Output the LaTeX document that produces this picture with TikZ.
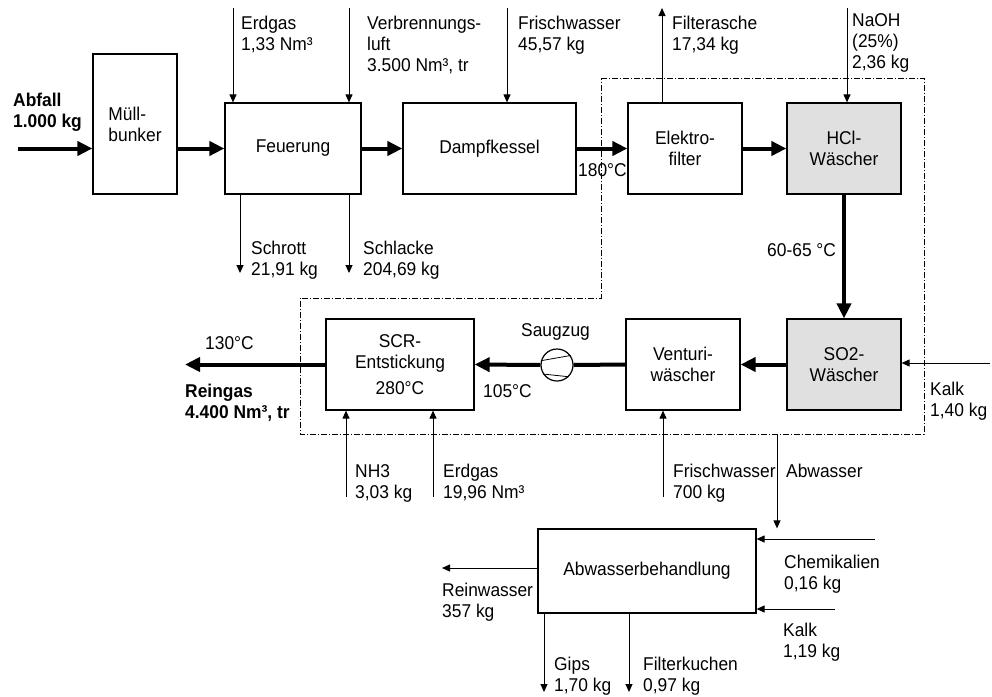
\documentclass[tikz,border=0pt]{standalone}
\usepackage{fontspec}
\setmainfont[FakeStretch=0.94]{Liberation Sans}
\usetikzlibrary{arrows.meta}

\begin{document}
\begin{tikzpicture}[x=1pt,y=-1pt,font=\fontsize{18.5}{21}\selectfont,
	box/.style={draw,line width=1.2pt,inner sep=0pt},
	wash/.style={box,fill=black!12},
	lbl/.style={anchor=north west,align=left,inner sep=0pt},
	flow/.style={line width=4pt,-{Triangle[length=15pt,width=14pt]}},
	feed/.style={line width=1pt,-{Triangle[length=8pt,width=7pt]}},
	border/.style={line width=1pt,dash pattern=on 6pt off 2pt on 1pt off 2pt}]
		\useasboundingbox (0,0) rectangle (992,696);
		% process units
		\path (135,124) node(muell)[box,minimum width=84pt,minimum height=140pt,align=left]{Müll-\\bunker}
		(293,148.5) node(feuer)[box,minimum width=136pt,minimum height=91pt]{Feuerung}
		(489.5,148.5) node(dampf)[box,minimum width=173pt,minimum height=91pt]{Dampfkessel}
		(685,148.5) node(elektro)[box,minimum width=114pt,minimum height=91pt,align=center]{Elektro-\\filter}
		(844,148.5) node(hcl)[wash,minimum width=114pt,minimum height=91pt,align=center]{HCl-\\Wäscher}
		(844,364.5) node(so2)[wash,minimum width=114pt,minimum height=91pt,align=center]{SO2-\\Wäscher}
		(683,364.5) node(venturi)[box,minimum width=114pt,minimum height=91pt,align=center]{Venturi-\\wäscher}
		(400,364.5) node(scr)[box,minimum width=148pt,minimum height=91pt,align=center]{SCR-\\Entstickung\\[5pt]280°C}
		(557,365) node(fan)[circle,draw,line width=1.2pt,minimum size=32pt,inner sep=0pt]{}
		(647,571) node(abw)[box,minimum width=218pt,minimum height=84pt]{Abwasserbehandlung};
		\draw[line width=0.8pt] (fan.165) -- (fan.35);
		\draw[line width=0.8pt] (fan.213) -- (fan.-45);
		% boundary of flue gas cleaning
		\draw[border] (601,78) -- (924,78) -- (924,434) -- (300,434) -- (300,298) -- (601,298) -- cycle;
		% free ends
		\coordinate (abfall) at (18,148.5);
		\coordinate (reingas) at (185,364.5);
		\coordinate (erdgasin) at (233,8);
		\coordinate (luft) at (349,8);
		\coordinate (frisch) at (507,8);
		\coordinate (asche) at (662,8);
		\coordinate (naoh) at (847,8);
		\coordinate (schrott) at (240,273);
		\coordinate (schlacke) at (349,273);
		\coordinate (kalkin) at (990,363);
		\coordinate (nh) at (346,497);
		\coordinate (erdgasscr) at (433,497);
		\coordinate (frischv) at (663,497);
		\coordinate (abwin) at (777,434);
		\coordinate (reinw) at (442,568);
		\coordinate (chem) at (875,539);
		\coordinate (kalkabw) at (835,609);
		\coordinate (gips) at (544,692);
		\coordinate (kuchen) at (629,692);
		% main gas flow
		\draw[flow] (abfall) -- (muell.west |- abfall);
		\draw[flow] (muell.east |- feuer) -- (feuer.west);
		\draw[flow] (feuer.east) -- (dampf.west);
		\draw[flow] (dampf.east) -- (elektro.west);
		\draw[flow] (elektro.east) -- (hcl.west);
		\draw[flow] (hcl.south) -- (so2.north);
		\draw[flow] (so2.west) -- (venturi.east);
		\draw[line width=4pt] (venturi.west) -- (fan.east);
		\draw[flow] (fan.west) -- (scr.east);
		\draw[flow] (scr.west) -- (reingas);
		% feeds and residues
		\draw[feed] (erdgasin) -- (erdgasin |- feuer.north);
		\draw[feed] (luft) -- (luft |- feuer.north);
		\draw[feed] (frisch) -- (frisch |- dampf.north);
		\draw[feed] (asche |- elektro.north) -- (asche);
		\draw[feed] (naoh) -- (naoh |- hcl.north);
		\draw[feed] (schrott |- feuer.south) -- (schrott);
		\draw[feed] (schlacke |- feuer.south) -- (schlacke);
		\draw[feed] (kalkin) -- (so2.east |- kalkin);
		\draw[feed] (nh) -- (nh |- scr.south);
		\draw[feed] (erdgasscr) -- (erdgasscr |- scr.south);
		\draw[feed] (frischv) -- (frischv |- venturi.south);
		\draw[feed] (abwin) -- (abwin |- abw.north);
		\draw[feed] (reinw -| abw.west) -- (reinw);
		\draw[feed] (chem) -- (abw.east |- chem);
		\draw[feed] (kalkabw) -- (abw.east |- kalkabw);
		\draw[feed] (gips |- abw.south) -- (gips);
		\draw[feed] (kuchen |- abw.south) -- (kuchen);
		% labels
		\path (13,93) node(tabfall)[lbl,font=\fontsize{18.5}{21}\selectfont\bfseries]{Abfall\\1.000 kg}
		(241,16) node(terdgas)[lbl]{Erdgas\\1,33 Nm³}
		(367,16) node(tluft)[lbl]{Verbrennungs-\\luft\\3.500 Nm³, tr}
		(518,16) node(tfrisch)[lbl]{Frischwasser\\45,57 kg}
		(672,16) node(tasche)[lbl]{Filterasche\\17,34 kg}
		(852,13) node(tnaoh)[lbl]{NaOH\\(25\%)\\2,36 kg}
		(251,241) node(tschrott)[lbl]{Schrott\\21,91 kg}
		(363,241) node(tschlacke)[lbl]{Schlacke\\204,69 kg}
		(578,163) node(t180)[lbl]{180°C}
		(767,243) node(t60)[lbl]{60-65 °C}
		(205,336) node(t130)[lbl]{130°C}
		(185,384) node(treingas)[lbl,font=\fontsize{18.5}{21}\selectfont\bfseries]{Reingas\\4.400 Nm³, tr}
		(521,323) node(tsaug)[lbl]{Saugzug}
		(483,384) node(t105)[lbl]{105°C}
		(930,382) node(tkalk)[lbl]{Kalk\\1,40 kg}
		(355,464) node(tnh)[lbl]{NH3\\3,03 kg}
		(443,464) node(terdgasscr)[lbl]{Erdgas\\19,96 Nm³}
		(673,464) node(tfrischv)[lbl]{Frischwasser\\700 kg}
		(786,464) node(tabw)[lbl]{Abwasser}
		(442,583) node(treinw)[lbl]{Reinwasser\\357 kg}
		(784,555) node(tchem)[lbl]{Chemikalien\\0,16 kg}
		(783,623) node(tkalkabw)[lbl]{Kalk\\1,19 kg}
		(554,657) node(tgips)[lbl]{Gips\\1,70 kg}
		(643,657) node(tkuchen)[lbl]{Filterkuchen\\0,97 kg};
	\end{tikzpicture}
\end{document}
